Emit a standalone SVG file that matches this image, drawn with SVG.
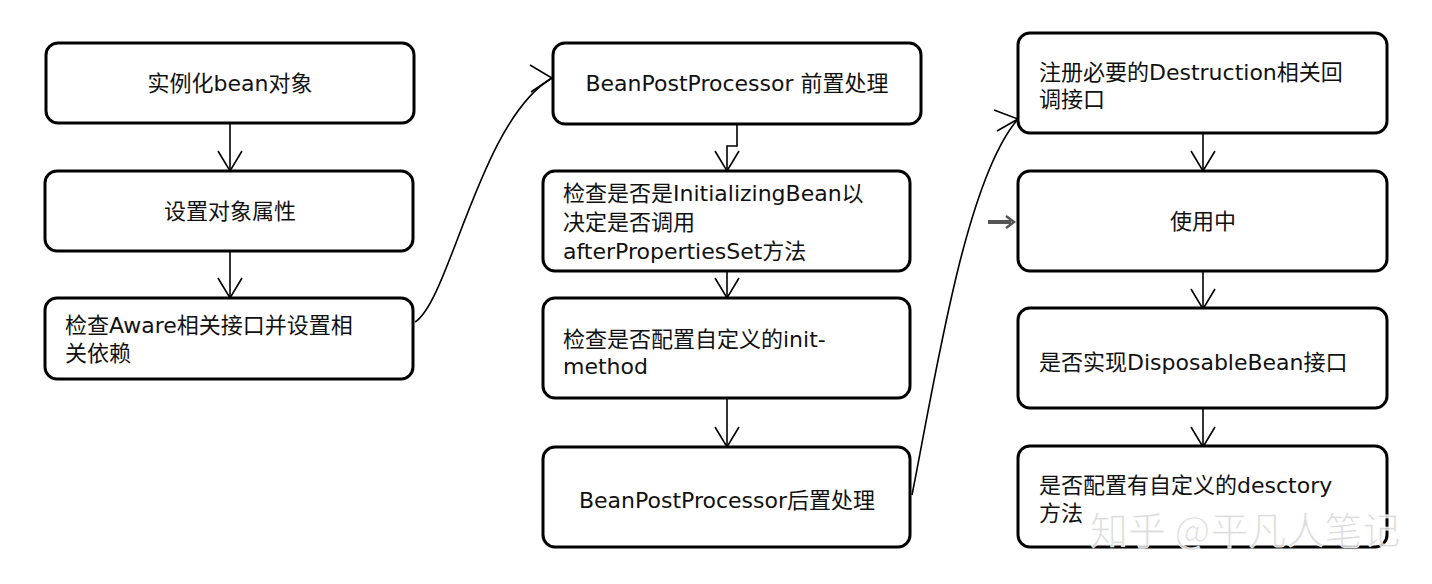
<svg xmlns="http://www.w3.org/2000/svg" width="1432" height="584" viewBox="0 0 1432 584">
<style>
.box{fill:#fff;stroke:#000;stroke-width:3}
.t{font-family:"DejaVu Sans","Noto Sans CJK SC",sans-serif;font-size:22px;fill:#111}
.c{text-anchor:middle}
.ln{fill:none;stroke:#000;stroke-width:1.6}
.hd{fill:none;stroke:#000;stroke-width:1.6;stroke-linejoin:miter}
.wm{font-family:"Noto Sans CJK SC",sans-serif;font-size:38px;fill:#d9d9d9;stroke:#fff;stroke-width:1;opacity:0.9}
</style>
<rect width="1432" height="584" fill="#fff"/>
<g id="connectors">
<path class="ln" d="M230,123 V171"/><path class="hd" d="M218,151 L230,171 L242,151"/>
<path class="ln" d="M230,251 V298"/><path class="hd" d="M218,278 L230,298 L242,278"/>
<path class="ln" d="M737,123 V146 H727 V171"/><path class="hd" d="M715,151 L727,171 L739,151"/>
<path class="ln" d="M727,271 V298"/><path class="hd" d="M715,278 L727,298 L739,278"/>
<path class="ln" d="M727,398 V447"/><path class="hd" d="M715,427 L727,447 L739,427"/>
<path class="ln" d="M1203,133 V171"/><path class="hd" d="M1191,151 L1203,171 L1215,151"/>
<path class="ln" d="M1203,271 V309"/><path class="hd" d="M1191,289 L1203,309 L1215,289"/>
<path class="ln" d="M1203,408 V447"/><path class="hd" d="M1191,427 L1203,447 L1215,427"/>
<path class="ln" d="M415,322 C450,300 480,120 552,78"/><path class="hd" d="M530,65 L552,78 L531,92"/>
<path class="ln" d="M912,495 C935,380 965,180 1018,119"/><path class="hd" d="M994,110 L1018,119 L997,131"/>
<path d="M988,222 H1011" stroke="#555" stroke-width="4" fill="none"/><path d="M1006,216 L1014,222 L1006,228" stroke="#555" stroke-width="2.5" fill="none"/>
</g>
<g id="n1"><rect class="box" x="46" y="43" width="368" height="80" rx="12"/><text class="t c" x="230" y="91">实例化bean对象</text></g>
<g id="n2"><rect class="box" x="45" y="171" width="368" height="80" rx="12"/><text class="t c" x="230" y="219">设置对象属性</text></g>
<g id="n3"><rect class="box" x="45" y="298" width="368" height="81" rx="12"/><text class="t" x="65" y="333">检查Aware相关接口并设置相</text><text class="t" x="65" y="361">关依赖</text></g>
<g id="n4"><rect class="box" x="553" y="43" width="368" height="81" rx="12"/><text class="t c" x="737" y="91">BeanPostProcessor 前置处理</text></g>
<g id="n5"><rect class="box" x="543" y="171" width="367" height="100" rx="12"/><text class="t" x="563" y="201">检查是否是InitializingBean以</text><text class="t" x="563" y="230">决定是否调用</text><text class="t" x="563" y="259">afterPropertiesSet方法</text></g>
<g id="n6"><rect class="box" x="543" y="298" width="367" height="100" rx="12"/><text class="t" x="563" y="347">检查是否配置自定义的init-</text><text class="t" x="563" y="374">method</text></g>
<g id="n7"><rect class="box" x="543" y="447" width="367" height="100" rx="12"/><text class="t c" x="727" y="508">BeanPostProcessor后置处理</text></g>
<g id="n8"><rect class="box" x="1018" y="33" width="369" height="100" rx="12"/><text class="t" x="1039" y="80">注册必要的Destruction相关回</text><text class="t" x="1039" y="107">调接口</text></g>
<g id="n9"><rect class="box" x="1018" y="171" width="369" height="100" rx="12"/><text class="t c" x="1203" y="229">使用中</text></g>
<g id="n10"><rect class="box" x="1018" y="308" width="369" height="100" rx="12"/><text class="t" x="1039" y="370">是否实现DisposableBean接口</text></g>
<g id="n11"><rect class="box" x="1018" y="446" width="369" height="101" rx="12"/><text class="t" x="1039" y="493">是否配置有自定义的desctory</text><text class="t" x="1039" y="521">方法</text></g>
<g id="watermark"><text class="wm" x="1090" y="544">知乎 @平凡人笔记</text></g>
</svg>
